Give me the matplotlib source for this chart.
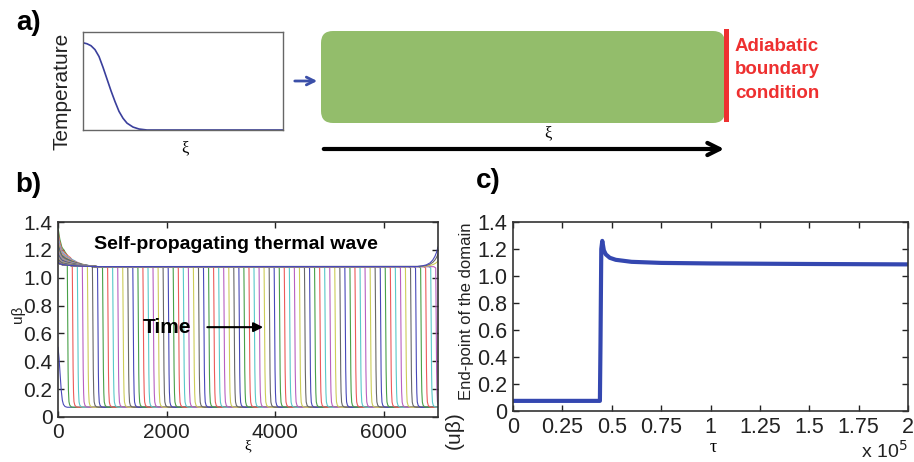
import numpy as np
import matplotlib
matplotlib.use('Agg')
import matplotlib.pyplot as plt
from matplotlib.patches import FancyBboxPatch, Rectangle

plt.rcParams['font.family'] = ['Liberation Sans', 'DejaVu Sans']

# ---- panel a: sketch of the initial temperature profile
a_xi = [0, 0.02, 0.04, 0.06, 0.08, 0.10, 0.12, 0.14, 0.16, 0.18, 0.20, 0.22, 0.25, 0.28, 0.32, 1.0]
a_temp = [0.89, 0.88, 0.86, 0.82, 0.75, 0.64, 0.52, 0.40, 0.29, 0.19, 0.12, 0.07, 0.03, 0.01, 0.0, 0.0]

# ---- panel b: travelling thermal wave profiles
init_xi = [0, 20, 40, 60, 80, 100, 130, 170, 7000]
init_u = [0.5, 0.42, 0.3, 0.19, 0.12, 0.09, 0.075, 0.07, 0.07]

front_pos = [170, 263, 356, 449, 542, 635, 728, 821, 914, 1007, 1100, 1193, 1286, 1379,
             1472, 1565, 1658, 1751, 1844, 1937, 2030, 2123, 2216, 2309, 2402, 2495, 2588,
             2681, 2774, 2867, 2960, 3053, 3146, 3239, 3332, 3425, 3518, 3611, 3704, 3797,
             3890, 3983, 4076, 4169, 4262, 4355, 4448, 4541, 4634, 4727, 4820, 4913, 5006,
             5099, 5192, 5285, 5378, 5471, 5564, 5657, 5750, 5843, 5936, 6029, 6122, 6215,
             6308, 6401, 6494, 6587, 6680, 6773, 6866, 6959]
# shape of one front, relative to its position
front_dx = [-40, 0, 6, 12, 20, 30, 45, 70, 100]
front_u = [1.08, 1.07, 0.75, 0.42, 0.2, 0.11, 0.085, 0.073, 0.07]
plateau = 1.08
cold = 0.07

# hot layer near the ignited end (xi = 0)
hot_dx = [0, 30, 70, 130, 220, 320, 420, 550, 700]
hot_shape = [1.0, 0.72, 0.5, 0.38, 0.27, 0.18, 0.11, 0.05, 0.0]
hot_peak = [1.36, 1.33, 1.30, 1.28, 1.26, 1.245, 1.23, 1.22, 1.21, 1.20, 1.19, 1.18,
            1.175, 1.17, 1.16, 1.155, 1.15, 1.145, 1.14, 1.135, 1.13, 1.125, 1.12, 1.115]
hot_rest = 1.11

# rise at the adiabatic end (xi = 7000) after the front arrives
end_dx = [0, 30, 60, 100, 150, 220, 300, 400]
end_shape = [1.0, 0.7, 0.5, 0.32, 0.18, 0.08, 0.03, 0.0]
end_peak = [1.12, 1.17, 1.22]

b_xticks = [0, 2000, 4000, 6000]
b_yticks = [0, 0.2, 0.4, 0.6, 0.8, 1.0, 1.2, 1.4]
b_ylabels = ['0', '0.2', '0.4', '0.6', '0.8', '1.0', '1.2', '1.4']

# ---- panel c: value at the end-point of the domain
c_tau = [0, 0.44, 0.443, 0.447, 0.452, 0.46, 0.47, 0.49, 0.52, 0.6, 0.75, 1.0, 1.5, 2.0]
c_u = [0.075, 0.075, 0.5, 1.2, 1.26, 1.19, 1.16, 1.135, 1.12, 1.105, 1.097, 1.093, 1.089, 1.086]
c_xticks = [0, 0.25, 0.5, 0.75, 1, 1.25, 1.5, 1.75, 2]
c_xlabels = ['0', '0.25', '0.5', '0.75', '1', '1.25', '1.5', '1.75', '2']

line_colors = ['#4848b8', '#48a048', '#ec5a5a', '#58c8c8', '#b860c0', '#cccc58', '#686868']

W, H = 914, 462
fig = plt.figure(figsize=(W / 100, H / 100), dpi=100)

# overlay in pixel coordinates for the sketch and labels
ov = fig.add_axes([0, 0, 1, 1])
ov.set_xlim(0, W)
ov.set_ylim(H, 0)
ov.axis('off')


def box(l, t, r, b):
    return [l / W, 1 - b / H, (r - l) / W, (b - t) / H]


def matlab_axes(ax, fs):
    ax.tick_params(direction='in', top=True, right=True, length=4, width=1,
                   labelsize=fs, pad=4, colors='#222222')
    for s in ax.spines.values():
        s.set_linewidth(1.2)
        s.set_color('#333333')


# ---------------- a)
ax_a = fig.add_axes(box(83, 32, 283, 130))
ax_a.plot(a_xi, a_temp, color='#3a3f9c', lw=1.2)
ax_a.set_xlim(0, 1)
ax_a.set_ylim(0, 1)
ax_a.set_xticks([])
ax_a.set_yticks([])
for s in ax_a.spines.values():
    s.set_color('#666666')
    s.set_linewidth(1)

ov.text(29, 23, 'a)', fontsize=20, fontweight='bold', ha='center', va='center')
ov.text(62, 91, 'Temperature', fontsize=15, rotation=90, ha='center', va='center', color='#222222')
ov.text(185, 148, 'ξ', fontsize=12, family='Liberation Serif', ha='center', va='center')

ov.annotate('', xy=(320, 81), xytext=(292, 81),
            arrowprops=dict(arrowstyle='->', color='#3b4fa8', lw=2, mutation_scale=14))
ov.add_patch(FancyBboxPatch((331, 41), 384, 72, boxstyle='round,pad=10,rounding_size=12',
                            fc='#93bd6b', ec='none'))
ov.add_patch(Rectangle((724, 29), 5, 93, fc='#ee3030', ec='none'))
ov.text(735, 70, 'Adiabatic\nboundary\ncondition', fontsize=13.5, fontweight='bold',
        color='#ee3030', ha='left', va='center', linespacing=1.5)
ov.text(548, 133, 'ξ', fontsize=12, family='Liberation Serif', ha='center', va='center')
ov.annotate('', xy=(727, 149), xytext=(321, 149),
            arrowprops=dict(arrowstyle='->', color='black', lw=3, mutation_scale=22))

# ---------------- b)
ax_b = fig.add_axes(box(58, 222, 438, 417))
xi = np.linspace(0, 7000, 3501)
ax_b.plot(init_xi, init_u, color=line_colors[0], lw=0.8)
k = 1
for i, pos in enumerate(front_pos):
    u = np.interp(xi - pos, front_dx, front_u)
    peak = hot_peak[i] if i < len(hot_peak) else hot_rest
    u = u + (peak - plateau) * np.interp(xi, hot_dx, hot_shape) * (u - cold) / (plateau - cold)
    ax_b.plot(xi, u, color=line_colors[k % 7], lw=0.8)
    k += 1
for peak in end_peak:
    u = plateau + (peak - plateau) * np.interp(xi[-1] - xi, end_dx, end_shape)
    u = u + (hot_rest - plateau) * np.interp(xi, hot_dx, hot_shape)
    ax_b.plot(xi, u, color=line_colors[k % 7], lw=0.8)
    k += 1
ax_b.set_xlim(0, 7000)
ax_b.set_ylim(0, 1.4)
ax_b.set_xticks(b_xticks)
ax_b.set_yticks(b_yticks)
ax_b.set_yticklabels(b_ylabels)
matlab_axes(ax_b, 15)
ax_b.text(3270, 1.235, 'Self-propagating thermal wave', fontsize=14, fontweight='bold',
          ha='center', va='center')
ax_b.text(2000, 0.64, 'Time', fontsize=15, fontweight='bold', ha='center', va='center')
ax_b.annotate('', xy=(3830, 0.645), xytext=(2700, 0.645),
              arrowprops=dict(arrowstyle='-|>', color='black', lw=1.5, mutation_scale=14))

ov.text(28, 185, 'b)', fontsize=20, fontweight='bold', ha='center', va='center')
ov.text(18, 314, 'uβ', fontsize=11, rotation=90, ha='center', va='center', color='#222222')
ov.text(248, 446, 'ξ', fontsize=11, family='Liberation Serif', ha='center', va='center')

# ---------------- c)
ax_c = fig.add_axes(box(513, 222, 908, 411))
ax_c.plot(c_tau, c_u, color='#3447b0', lw=3)
ax_c.set_xlim(0, 2)
ax_c.set_ylim(0, 1.4)
ax_c.set_xticks(c_xticks)
ax_c.set_xticklabels(c_xlabels)
ax_c.set_yticks(b_yticks)
ax_c.set_yticklabels(b_ylabels)
matlab_axes(ax_c, 15.5)

ov.text(488, 181, 'c)', fontsize=20, fontweight='bold', ha='center', va='center')
ov.text(454, 430, '(uβ)', fontsize=15, rotation=90, ha='center', va='center', color='#222222')
ov.text(467, 311, 'End-point of the domain', fontsize=12, rotation=90, ha='center',
        va='center', color='#222222')
ov.text(713, 447, 'τ', fontsize=13, family='Liberation Serif', ha='center', va='center')
ov.text(908, 462, r'x 10$^{5}$', fontsize=14, ha='right', va='bottom', color='#222222')

fig.savefig('out.png', dpi=100)
